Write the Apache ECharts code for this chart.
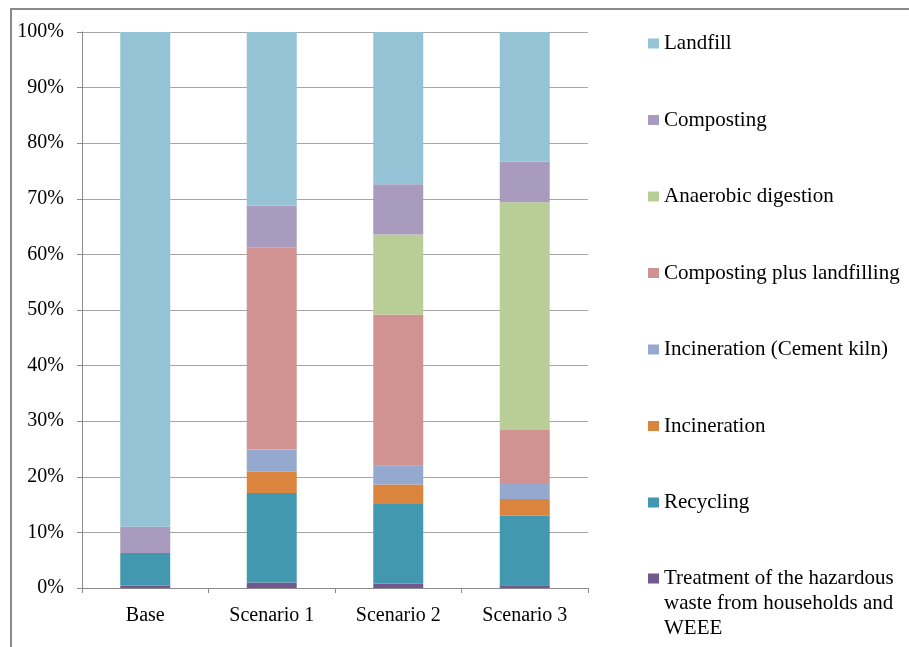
<!DOCTYPE html>
<html>
<head>
<meta charset="utf-8">
<script src="https://cdn.jsdelivr.net/npm/echarts@6/dist/echarts.min.js"></script>
<style>
  html, body { margin: 0; padding: 0; background: #fff; }
  #chart { width: 909px; height: 647px; }
</style>
</head>
<body>
<div id="chart"></div>
<script>
// Share of each waste treatment option per scenario (% of total)
const categories = ['Base', 'Scenario 1', 'Scenario 2', 'Scenario 3'];

const hazardous      = [0.4, 1.0, 0.8, 0.5];
const recycling      = [5.9, 16.1, 14.3, 12.5];
const incineration   = [0, 3.8, 3.5, 3.0];
const cementKiln     = [0, 4.0, 3.4, 2.9];
const compostLandfil = [0, 36.4, 27.2, 9.5];
const anaerobic      = [0, 0, 14.4, 41.0];
const composting     = [4.7, 7.5, 9.0, 7.3];
const landfill       = [89.0, 31.2, 27.4, 23.3];

const yTicks = [0, 10, 20, 30, 40, 50, 60, 70, 80, 90, 100];

const HAZ_NAME = 'Treatment of the hazardous waste from households and WEEE';

// Bottom-to-top stacking order
const seriesDefs = [
  { name: HAZ_NAME,                        data: hazardous,      color: '#71588F' },
  { name: 'Recycling',                     data: recycling,      color: '#4298AF' },
  { name: 'Incineration',                  data: incineration,   color: '#DB843D' },
  { name: 'Incineration (Cement kiln)',    data: cementKiln,     color: '#95A9CF' },
  { name: 'Composting plus landfilling',   data: compostLandfil, color: '#D19391' },
  { name: 'Anaerobic digestion',           data: anaerobic,      color: '#B9CD96' },
  { name: 'Composting',                    data: composting,     color: '#A99BBD' },
  { name: 'Landfill',                      data: landfill,       color: '#93C3D4' }
];

const FONT = '"Liberation Serif", "Times New Roman", serif';

const chart = echarts.init(document.getElementById('chart'), null, { renderer: 'canvas' });

const legendNames = seriesDefs.slice().reverse().map(s => s.name);

chart.setOption({
  animation: false,
  backgroundColor: '#ffffff',
  textStyle: { fontFamily: FONT },
  graphic: [{
    type: 'rect',
    shape: { x: 11, y: 9, width: 1000, height: 800 },
    style: { fill: 'none', stroke: '#8a8a8a', lineWidth: 2 },
    silent: true,
    z: -1
  }],
  grid: { left: 82, right: 321, top: 32, bottom: 59, containLabel: false },
  legend: [
    {
      data: legendNames.slice(0, 7),
      orient: 'vertical',
      left: 648,
      top: 31,
      padding: 0,
      itemWidth: 11,
      itemHeight: 10,
      itemGap: 51.5,
      icon: 'rect',
      selectedMode: false,
      textStyle: { fontFamily: FONT, fontSize: 21, lineHeight: 25, color: '#000' }
    },
    {
      // three-line entry: two leading blank lines keep the marker beside the first line
      data: [HAZ_NAME],
      orient: 'vertical',
      left: 648,
      top: 516,
      padding: 0,
      itemWidth: 11,
      itemHeight: 10,
      icon: 'rect',
      selectedMode: false,
      formatter: () => '\n\nTreatment of the hazardous\nwaste from households and\nWEEE',
      textStyle: { fontFamily: FONT, fontSize: 21, lineHeight: 25, color: '#000' }
    }
  ],
  xAxis: {
    type: 'category',
    data: categories,
    axisLine: { lineStyle: { color: '#8a8a8a', width: 1 } },
    axisTick: { show: true, length: 5, alignWithLabel: false, lineStyle: { color: '#8a8a8a' } },
    axisLabel: { fontFamily: FONT, fontSize: 20, color: '#000', margin: 18 }
  },
  yAxis: {
    type: 'value',
    min: 0,
    max: 100,
    interval: 10,
    axisLine: { show: true, lineStyle: { color: '#8a8a8a', width: 1 } },
    axisTick: { show: true, length: 5, lineStyle: { color: '#8a8a8a' } },
    splitLine: { show: true, lineStyle: { color: '#a6a6a6', width: 1 } },
    axisLabel: {
      fontFamily: FONT, fontSize: 20, color: '#000', margin: 18,
      formatter: v => (yTicks.indexOf(v) >= 0 ? v + '%' : '')
    }
  },
  series: seriesDefs.map(s => ({
    name: s.name,
    type: 'bar',
    stack: 'total',
    barWidth: '39.5%',
    data: s.data,
    itemStyle: { color: s.color },
    emphasis: { disabled: true }
  }))
});
</script>
</body>
</html>
